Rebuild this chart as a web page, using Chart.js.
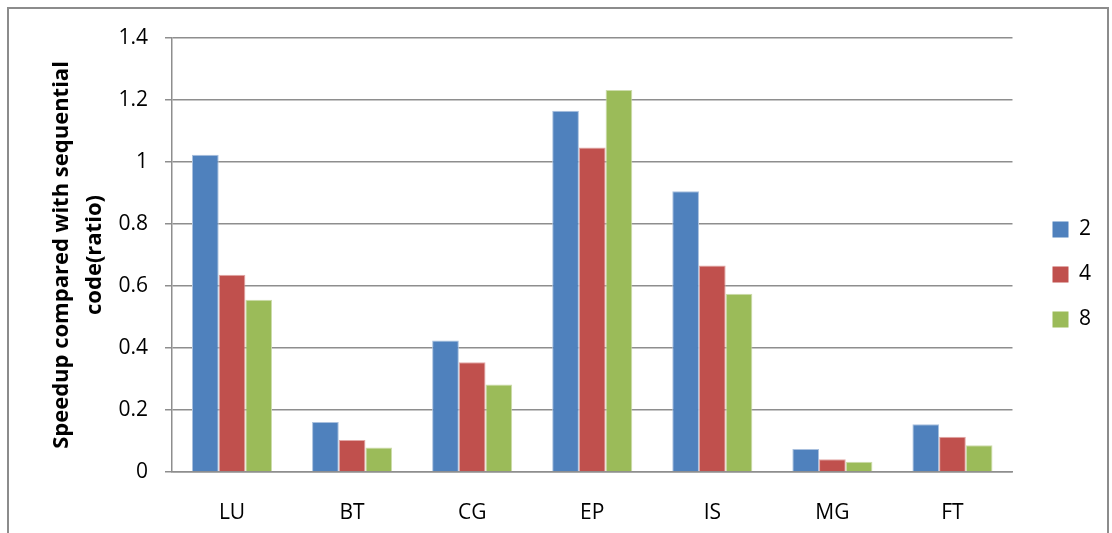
<!DOCTYPE html>
<html>
<head>
<meta charset="utf-8">
<script src="https://cdn.jsdelivr.net/npm/chart.js@4"></script>
<style>
  body { margin: 0; background: #fff; }
  #wrap { position: relative; width: 1112px; height: 533px; overflow: hidden; }
  #frame { position: absolute; left: 7px; top: 7px; width: 1098px; height: 560px; border: 2px solid #8c8c8c; }
  canvas { position: absolute; left: 0; top: 0; }
</style>
</head>
<body>
<div id="wrap">
  <div id="frame"></div>
  <canvas id="myChart" width="1112" height="533"></canvas>
</div>
<script>
const categories = ['LU', 'BT', 'CG', 'EP', 'IS', 'MG', 'FT'];
const seriesNames = ['2', '4', '8'];
const speedup2 = [1.023, 0.161, 0.424, 1.165, 0.906, 0.074, 0.154];
const speedup4 = [0.636, 0.103, 0.354, 1.047, 0.666, 0.041, 0.114];
const speedup8 = [0.556, 0.079, 0.282, 1.232, 0.575, 0.033, 0.086];

const fontFamily = "'Open Sans', sans-serif";
const gridColor = '#8e8e8e';

const data = {
    labels: categories,
    datasets: [{
        label: seriesNames[0],
        data: speedup2,
        backgroundColor: '#4f81bd',
        borderColor: '#a9c0de',
        borderWidth: 1
    }, {
        label: seriesNames[1],
        data: speedup4,
        backgroundColor: '#c0504d',
        borderColor: '#e2a8a6',
        borderWidth: 1
    }, {
        label: seriesNames[2],
        data: speedup8,
        backgroundColor: '#9bbb59',
        borderColor: '#cddcac',
        borderWidth: 1
    }]
};

// nudge the legend a bit right/up, like the Excel original
const legendShift = {
    id: 'legendShift',
    afterLayout(chart) {
        const l = chart.legend;
        l.left += 16; l.right += 16;
        l.top -= 6; l.bottom -= 6;
    }
};

const config = {
    type: 'bar',
    data: data,
    plugins: [legendShift],
    options: {
        responsive: false,
        animation: false,
        layout: { padding: { left: 10, top: 38, right: 27, bottom: 10 } },
        datasets: { bar: { categoryPercentage: 0.667, barPercentage: 1 } },
        plugins: {
            tooltip: { enabled: false },
            legend: {
                position: 'right',
                labels: {
                    boxWidth: 16,
                    boxHeight: 16,
                    padding: 24,
                    color: '#000',
                    font: { family: fontFamily, size: 21, lineHeight: 1.15 },
                    generateLabels(chart) {
                        return chart.data.datasets.map((ds, i) => ({
                            text: ds.label,
                            fillStyle: ds.backgroundColor,
                            strokeStyle: ds.backgroundColor,
                            lineWidth: 0,
                            datasetIndex: i,
                            fontColor: '#000'
                        }));
                    }
                }
            }
        },
        scales: {
            x: {
                grid: { display: false },
                border: { display: true, color: gridColor, width: 1.5 },
                ticks: { color: '#000', padding: 20, font: { family: fontFamily, size: 21 } },
                afterFit(s) { s.height = 51; }
            },
            y: {
                min: 0,
                max: 1.4,
                ticks: {
                    stepSize: 0.2,
                    padding: 17,
                    color: '#000',
                    font: { family: fontFamily, size: 21 },
                    callback: v => String(+v.toFixed(1))
                },
                grid: { color: gridColor, lineWidth: 1.5, tickLength: 7 },
                border: { display: true, color: gridColor, width: 1.5 },
                title: {
                    display: true,
                    text: ['Speedup compared with sequential', 'code(ratio)'],
                    color: '#000',
                    font: { family: fontFamily, size: 22, weight: 'bold', lineHeight: 1.5 },
                    padding: { top: 35, bottom: 0 }
                },
                afterFit(s) { s.width = 162; }
            }
        }
    }
};

const myChart = new Chart(
    document.getElementById('myChart'),
    config
);
</script>
</body>
</html>
